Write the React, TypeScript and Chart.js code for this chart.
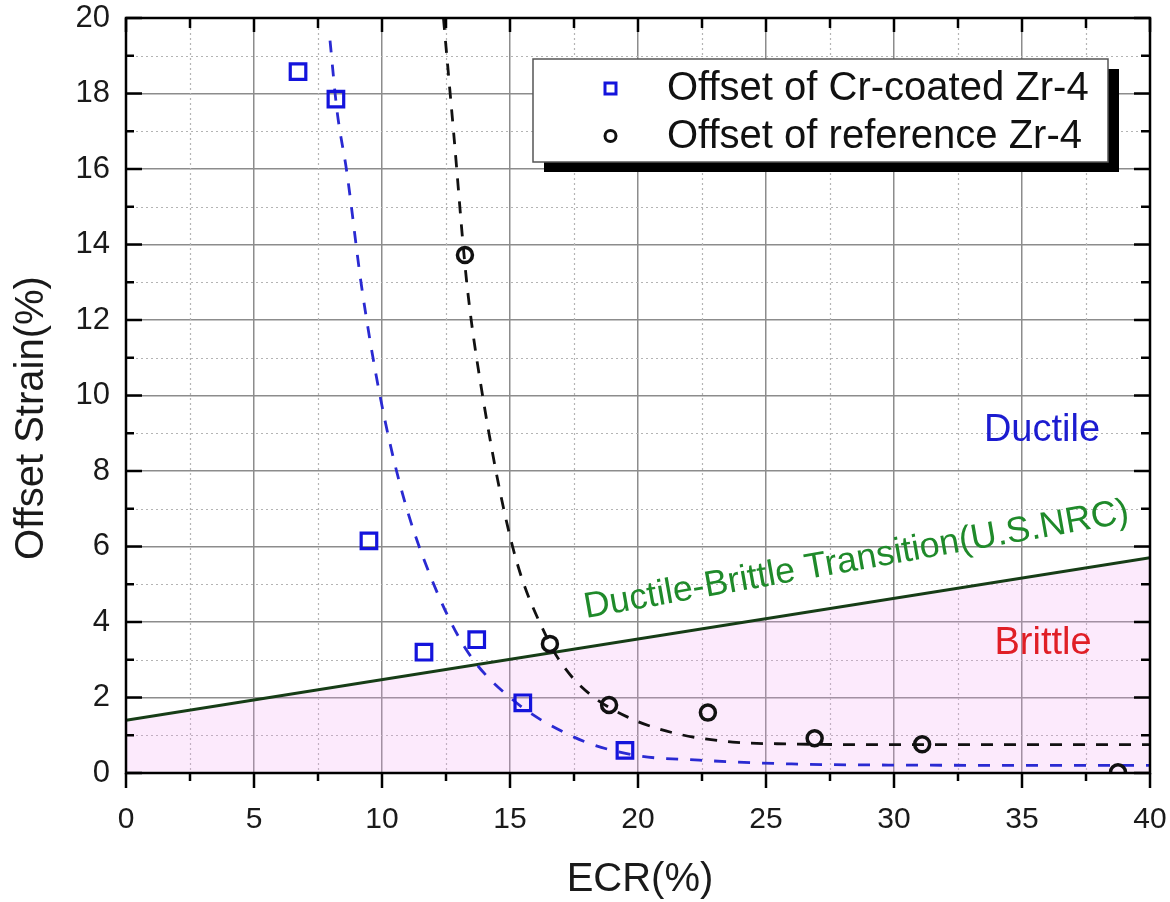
import React, { useEffect, useRef } from "react";
import { Chart, registerables } from "chart.js";

Chart.register(...registerables);

// ---- data ----
const crCoatedECR = [6.72, 8.2, 9.49, 11.64, 13.7, 15.5, 19.49];
const crCoatedStrain = [18.58, 17.85, 6.15, 3.2, 3.53, 1.86, 0.6];

const referenceECR = [13.24, 16.56, 18.87, 22.73, 26.9, 31.1, 38.75];
const referenceStrain = [13.72, 3.42, 1.8, 1.6, 0.92, 0.76, 0.02];

const crFitECR = [7.97, 8.24, 8.63, 9.2, 9.92, 10.8, 11.9, 13.3, 15.0, 17.5, 19.8, 22.4, 26.0, 30.0, 40.0];
const crFitStrain = [19.4, 17.56, 15.9, 12.9, 10.0, 7.4, 5.2, 3.26, 2.0, 0.95, 0.48, 0.34, 0.24, 0.21, 0.2];

const refFitECR = [12.4, 12.8, 13.3, 13.83, 15.1, 16.5, 17.2, 18.1, 19.6, 21.4, 23.7, 26.0, 30.0, 40.0];
const refFitStrain = [20.0, 16.95, 13.06, 10.41, 6.0, 3.5, 2.73, 2.1, 1.48, 1.06, 0.82, 0.77, 0.75, 0.75];

const nrcECR = [0, 40];
const nrcStrain = [1.4, 5.7];

const xMajorTicks = [0, 5, 10, 15, 20, 25, 30, 35, 40];
const xMinorTicks = [2.5, 7.5, 12.5, 17.5, 22.5, 27.5, 32.5, 37.5];
const yMajorTicks = [0, 2, 4, 6, 8, 10, 12, 14, 16, 18, 20];
const yMinorTicks = [1, 3, 5, 7, 9, 11, 13, 15, 17, 19];

const seriesLabels = ["Offset of Cr-coated Zr-4", "Offset of reference Zr-4"];
const xTitle = "ECR(%)";
const yTitle = "Offset Strain(%)";
const nrcLabel = "Ductile-Brittle Transition(U.S.NRC)";
const ductileLabel = "Ductile";
const brittleLabel = "Brittle";

const FONT = "'Liberation Sans', Arial, Helvetica, sans-serif";
const BLUE = "#1414dc";
const BLUE_LINE = "#2a2ad2";
const BLACK = "#111111";

const zip = (xs: number[], ys: number[]) => xs.map((x, i) => ({ x, y: ys[i] }));

export default function App() {
  const canvasRef = useRef<HTMLCanvasElement | null>(null);

  useEffect(() => {
    const canvas = canvasRef.current;
    if (!canvas) return;

    const decor = {
      id: "decor",
      beforeDatasetsDraw(chart: any) {
        const { ctx, chartArea: a } = chart;
        const x = chart.scales.x;
        const y = chart.scales.y;
        ctx.save();
        ctx.strokeStyle = "rgba(180,180,180,1)";
        ctx.lineWidth = 1.2;
        ctx.setLineDash([2, 3]);
        xMinorTicks.forEach((v) => {
          const px = Math.round(x.getPixelForValue(v)) + 0.5;
          ctx.beginPath();
          ctx.moveTo(px, a.top);
          ctx.lineTo(px, a.bottom);
          ctx.stroke();
        });
        yMinorTicks.forEach((v) => {
          const py = Math.round(y.getPixelForValue(v)) + 0.5;
          ctx.beginPath();
          ctx.moveTo(a.left, py);
          ctx.lineTo(a.right, py);
          ctx.stroke();
        });
        ctx.restore();
      },
      afterDatasetsDraw(chart: any) {
        const { ctx, chartArea: a } = chart;
        const x = chart.scales.x;
        const y = chart.scales.y;
        ctx.save();
        // frame
        ctx.strokeStyle = "#000";
        ctx.lineWidth = 2.5;
        ctx.strokeRect(a.left, a.top, a.right - a.left, a.bottom - a.top);
        // tick marks
        ctx.lineWidth = 2.5;
        const seg = (x1: number, y1: number, x2: number, y2: number) => {
          ctx.beginPath();
          ctx.moveTo(x1, y1);
          ctx.lineTo(x2, y2);
          ctx.stroke();
        };
        xMajorTicks.forEach((v) => {
          const px = x.getPixelForValue(v);
          seg(px, a.bottom, px, a.bottom + 15);
          seg(px, a.top, px, a.top + 14);
        });
        xMinorTicks.forEach((v) => {
          const px = x.getPixelForValue(v);
          seg(px, a.bottom, px, a.bottom + 8);
          seg(px, a.top, px, a.top + 10);
        });
        yMajorTicks.forEach((v) => {
          const py = y.getPixelForValue(v);
          seg(a.left, py, a.left + 16, py);
          seg(a.right, py, a.right - 16, py);
        });
        yMinorTicks.forEach((v) => {
          const py = y.getPixelForValue(v);
          seg(a.left, py, a.left + 8, py);
          seg(a.right, py, a.right - 9, py);
        });

        // axis titles
        ctx.fillStyle = "#1a1a1a";
        ctx.font = `40px ${FONT}`;
        ctx.textAlign = "center";
        ctx.textBaseline = "middle";
        ctx.fillText(xTitle, 640, 880);
        ctx.save();
        ctx.translate(32, 418);
        ctx.rotate(-Math.PI / 2);
        ctx.fillText(yTitle, 0, 0);
        ctx.restore();

        // region labels
        ctx.font = `38px ${FONT}`;
        ctx.fillStyle = "#1c1cd0";
        ctx.fillText(ductileLabel, 1042, 431);
        ctx.fillStyle = "#e01e26";
        ctx.fillText(brittleLabel, 1043, 644);

        // transition label
        ctx.save();
        ctx.translate(586, 618);
        ctx.rotate((-10 * Math.PI) / 180);
        ctx.font = `36px ${FONT}`;
        ctx.fillStyle = "#1f8a2a";
        ctx.textAlign = "left";
        ctx.textBaseline = "alphabetic";
        ctx.fillText(nrcLabel, 0, 0);
        ctx.restore();

        ctx.restore();
      },
      afterDraw(chart: any) {
        const { ctx } = chart;
        ctx.save();
        const bx = 533, by = 59, bw = 575, bh = 103;
        ctx.fillStyle = "#000";
        ctx.fillRect(bx + 11, by + 10, bw, bh);
        ctx.fillStyle = "#fff";
        ctx.fillRect(bx, by, bw, bh);
        ctx.strokeStyle = "#555";
        ctx.lineWidth = 1.5;
        ctx.strokeRect(bx, by, bw, bh);

        // markers
        ctx.lineWidth = 3;
        ctx.strokeStyle = BLUE;
        ctx.strokeRect(605, 83, 11, 11);
        ctx.strokeStyle = BLACK;
        ctx.beginPath();
        ctx.arc(610.5, 136, 5.5, 0, Math.PI * 2);
        ctx.stroke();

        ctx.fillStyle = "#111";
        ctx.font = `40px ${FONT}`;
        ctx.textAlign = "left";
        ctx.textBaseline = "middle";
        ctx.fillText(seriesLabels[0], 667, 89);
        ctx.fillText(seriesLabels[1], 667, 137);
        ctx.restore();
      },
    };

    const chart = new Chart(canvas, {
      type: "scatter",
      data: {
        datasets: [
          {
            label: seriesLabels[0],
            data: zip(crCoatedECR, crCoatedStrain),
            pointStyle: "rect",
            pointRadius: 11,
            pointBorderWidth: 3.2,
            borderColor: BLUE,
            backgroundColor: "rgba(0,0,0,0)",
            showLine: false,
          },
          {
            label: seriesLabels[1],
            data: zip(referenceECR, referenceStrain),
            pointStyle: "circle",
            pointRadius: 7.5,
            pointBorderWidth: 3.5,
            borderColor: BLACK,
            backgroundColor: "rgba(0,0,0,0)",
            showLine: false,
          },
          {
            label: "Cr-coated fit",
            data: zip(crFitECR, crFitStrain),
            showLine: true,
            pointRadius: 0,
            borderColor: BLUE_LINE,
            borderWidth: 2.8,
            borderDash: [12, 12],
            cubicInterpolationMode: "monotone",
            fill: false,
          },
          {
            label: "Reference fit",
            data: zip(refFitECR, refFitStrain),
            showLine: true,
            pointRadius: 0,
            borderColor: BLACK,
            borderWidth: 2.8,
            borderDash: [12, 11],
            cubicInterpolationMode: "monotone",
            fill: false,
          },
          {
            label: "NRC",
            data: zip(nrcECR, nrcStrain),
            showLine: true,
            pointRadius: 0,
            borderColor: "#163d16",
            borderWidth: 3,
            fill: "origin",
            backgroundColor: "rgba(240,160,240,0.22)",
          },
        ],
      },
      options: {
        responsive: false,
        animation: false,
        events: [],
        layout: { padding: { top: 18, right: 20, left: 0, bottom: 0 } },
        plugins: {
          legend: { display: false },
          tooltip: { enabled: false },
        },
        scales: {
          x: {
            type: "linear",
            min: 0,
            max: 40,
            afterFit: (s: any) => {
              s.height = 129;
              s.paddingLeft = 0;
              s.paddingRight = 0;
              s.paddingTop = 0;
              s.paddingBottom = 0;
            },
            afterBuildTicks: (s: any) => {
              s.ticks = xMajorTicks.map((v) => ({ value: v }));
            },
            grid: {
              color: "rgba(140,140,140,1)",
              lineWidth: 1.5,
              drawTicks: false,
            },
            border: { display: false },
            ticks: {
              padding: 29,
              maxRotation: 0,
              color: "#1a1a1a",
              font: { family: FONT, size: 30 },
            },
          },
          y: {
            type: "linear",
            min: 0,
            max: 20,
            afterFit: (s: any) => {
              s.width = 126;
              s.paddingLeft = 0;
              s.paddingRight = 0;
              s.paddingTop = 0;
              s.paddingBottom = 0;
            },
            afterBuildTicks: (s: any) => {
              s.ticks = yMajorTicks.map((v) => ({ value: v }));
            },
            grid: {
              color: "rgba(140,140,140,1)",
              lineWidth: 1.5,
              drawTicks: false,
            },
            border: { display: false },
            ticks: {
              padding: 16,
              color: "#1a1a1a",
              font: { family: FONT, size: 31 },
            },
          },
        },
      },
      plugins: [decor],
    } as any);

    return () => chart.destroy();
  }, []);

  return (
    <div style={{ position: "absolute", left: 0, top: 0, width: 1170, height: 902, background: "#fff" }}>
      <canvas ref={canvasRef} width={1170} height={902} style={{ display: "block" }} />
    </div>
  );
}
